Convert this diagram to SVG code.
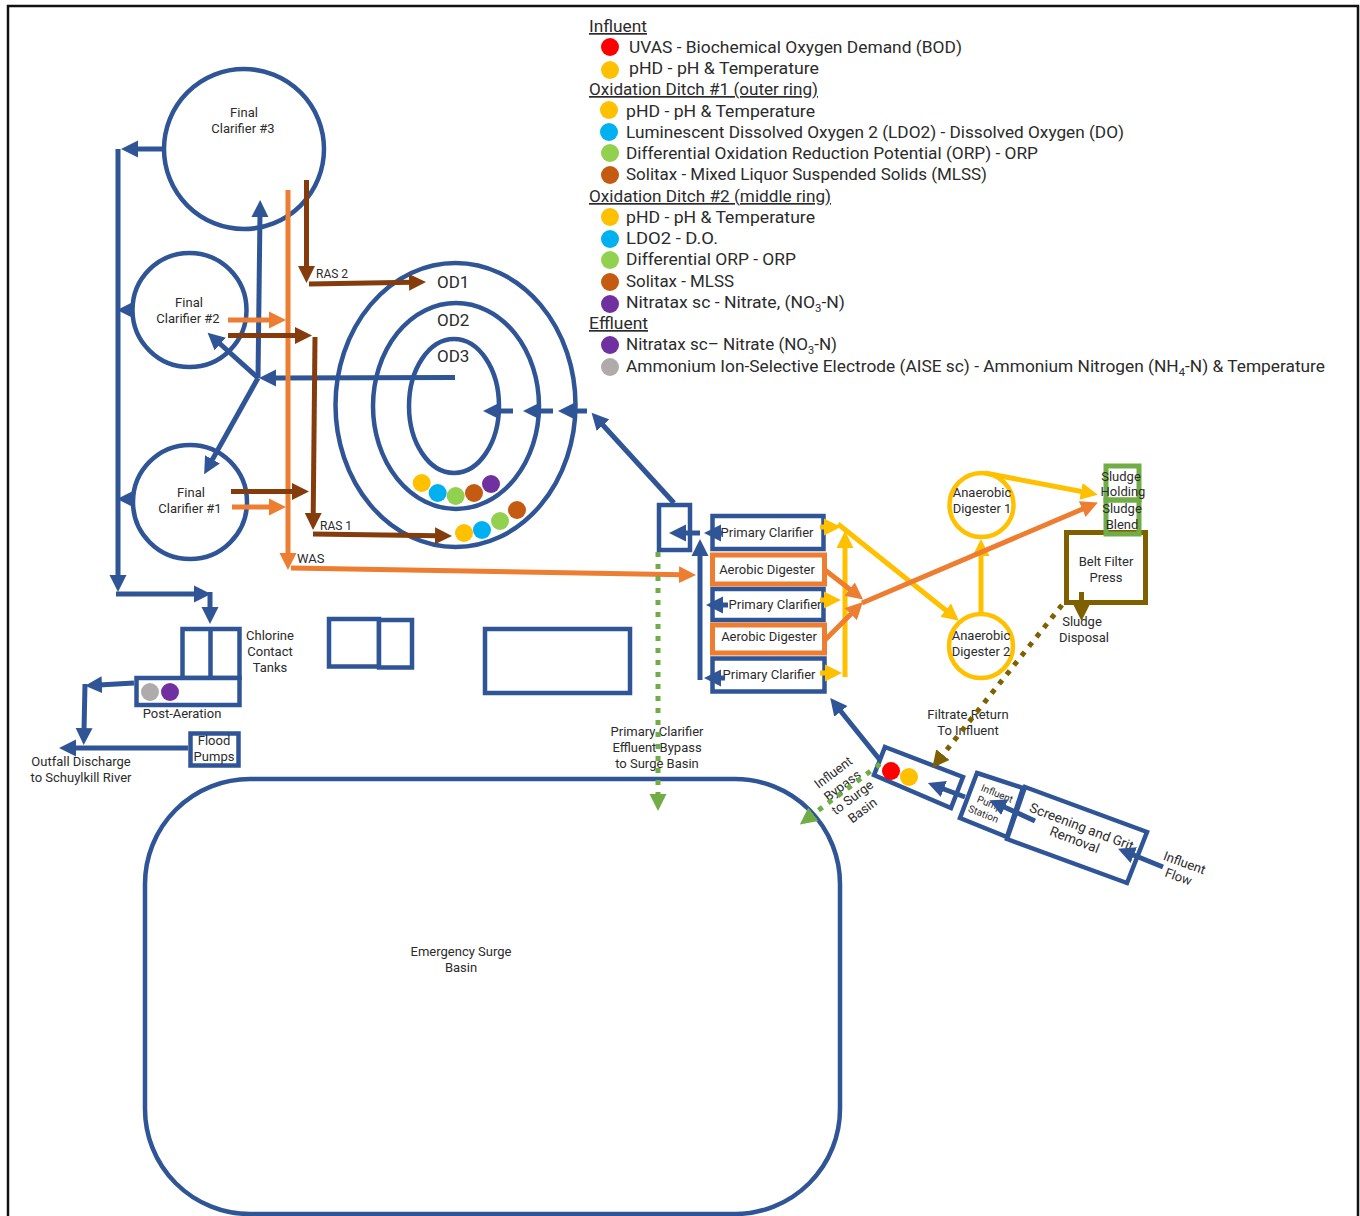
<svg xmlns="http://www.w3.org/2000/svg" width="1360" height="1216" viewBox="0 0 1360 1216">
<style>
text{font-family:"Roboto","Liberation Sans",sans-serif;font-size:13px;fill:#2b2b2b;text-anchor:middle}
.lg{font-size:17px;text-anchor:start}
.h{text-decoration:underline}
.od{font-size:17px;text-anchor:start}
.b,.o,.y,.t,.g,.w{fill:#fff}
.b{stroke:#2f5597;stroke-width:4.5}
.o{stroke:#ed7d31;stroke-width:5}
.y{stroke:#ffc000;stroke-width:4.5}
.t{stroke:#7f6000;stroke-width:5}
.g{stroke:#70ad47;stroke-width:5;fill:none}
#connectors line{fill:none;stroke-width:5}
.cb{stroke:#2f5597;marker-end:url(#mb)}
.co{stroke:#ed7d31;marker-end:url(#mo)}
.cr{stroke:#843c0c;marker-end:url(#mr)}
.cy{stroke:#ffc000;marker-end:url(#my)}
.ct{stroke:#7f6000;marker-end:url(#mt)}
.cg{stroke:#70ad47;marker-end:url(#mg)}
#connectors line.dot{stroke-width:5;stroke-dasharray:5 7}
.s1{fill:#ffc000}.s2{fill:#00b0f0}.s3{fill:#92d050}.s4{fill:#c55a11}.s5{fill:#7030a0}.s6{fill:#afabab}.s7{fill:#ff0000}
</style>
<defs>
<marker id="mb" markerUnits="userSpaceOnUse" markerWidth="18" markerHeight="18" refX="3" refY="9" orient="auto"><path d="M0,0.5L17,9L0,17.500z" fill="#2f5597"/></marker>
<marker id="mo" markerUnits="userSpaceOnUse" markerWidth="18" markerHeight="18" refX="3" refY="9" orient="auto"><path d="M0,0.5L17,9L0,17.500z" fill="#ed7d31"/></marker>
<marker id="mr" markerUnits="userSpaceOnUse" markerWidth="18" markerHeight="18" refX="3" refY="9" orient="auto"><path d="M0,0.5L17,9L0,17.500z" fill="#843c0c"/></marker>
<marker id="my" markerUnits="userSpaceOnUse" markerWidth="18" markerHeight="18" refX="3" refY="9" orient="auto"><path d="M0,0.5L17,9L0,17.500z" fill="#ffc000"/></marker>
<marker id="mt" markerUnits="userSpaceOnUse" markerWidth="18" markerHeight="18" refX="3" refY="9" orient="auto"><path d="M0,0.5L17,9L0,17.500z" fill="#7f6000"/></marker>
<marker id="mg" markerUnits="userSpaceOnUse" markerWidth="18" markerHeight="18" refX="3" refY="9" orient="auto"><path d="M0,0.5L17,9L0,17.500z" fill="#70ad47"/></marker>
</defs>
<rect width="1360" height="1216" fill="#fff"/>
<path d="M8,1216V6H1358V1216" fill="none" stroke="#111" stroke-width="2.5"/>

<g id="legend">
<text class="lg h" x="589" y="32" textLength="58" lengthAdjust="spacingAndGlyphs">Influent</text>
<circle class="s7" cx="610" cy="47" r="9"/><text class="lg" x="629" y="53" textLength="333" lengthAdjust="spacingAndGlyphs">UVAS - Biochemical Oxygen Demand (BOD)</text>
<circle class="s1" cx="610" cy="70" r="9"/><text class="lg" x="629" y="74" textLength="190" lengthAdjust="spacingAndGlyphs">pHD - pH &amp; Temperature</text>
<text class="lg h" x="589" y="95" textLength="229" lengthAdjust="spacingAndGlyphs">Oxidation Ditch #1 (outer ring)</text>
<circle class="s1" cx="609" cy="110" r="9"/><text class="lg" x="626" y="117" textLength="189" lengthAdjust="spacingAndGlyphs">pHD - pH &amp; Temperature</text>
<circle class="s2" cx="609" cy="132" r="9"/><text class="lg" x="626" y="138" textLength="498" lengthAdjust="spacingAndGlyphs">Luminescent Dissolved Oxygen 2 (LDO2) - Dissolved Oxygen (DO)</text>
<circle class="s3" cx="610" cy="153" r="9"/><text class="lg" x="626" y="159" textLength="412" lengthAdjust="spacingAndGlyphs">Differential Oxidation Reduction Potential (ORP) - ORP</text>
<circle class="s4" cx="610" cy="175" r="9"/><text class="lg" x="626" y="180" textLength="361" lengthAdjust="spacingAndGlyphs">Solitax - Mixed Liquor Suspended Solids (MLSS)</text>
<text class="lg h" x="589" y="202" textLength="242" lengthAdjust="spacingAndGlyphs">Oxidation Ditch #2 (middle ring)</text>
<circle class="s1" cx="610" cy="217" r="9"/><text class="lg" x="626" y="223" textLength="189" lengthAdjust="spacingAndGlyphs">pHD - pH &amp; Temperature</text>
<circle class="s2" cx="610" cy="239" r="9"/><text class="lg" x="626" y="244" textLength="92" lengthAdjust="spacingAndGlyphs">LDO2 - D.O.</text>
<circle class="s3" cx="610" cy="260" r="9"/><text class="lg" x="626" y="265" textLength="170" lengthAdjust="spacingAndGlyphs">Differential ORP - ORP</text>
<circle class="s4" cx="610" cy="282" r="9"/><text class="lg" x="626" y="287" textLength="108" lengthAdjust="spacingAndGlyphs">Solitax - MLSS</text>
<circle class="s5" cx="610" cy="304" r="9"/><text class="lg" x="626" y="308" textLength="219" lengthAdjust="spacingAndGlyphs">Nitratax sc - Nitrate, (NO<tspan font-size="11" dy="4">3</tspan><tspan dy="-4">-N)</tspan></text>
<text class="lg h" x="589" y="329" textLength="59" lengthAdjust="spacingAndGlyphs">Effluent</text>
<circle class="s5" cx="610" cy="345" r="9"/><text class="lg" x="626" y="350" textLength="211" lengthAdjust="spacingAndGlyphs">Nitratax sc– Nitrate (NO<tspan font-size="11" dy="4">3</tspan><tspan dy="-4">-N)</tspan></text>
<circle class="s6" cx="610" cy="367" r="9"/><text class="lg" x="626" y="372" textLength="699" lengthAdjust="spacingAndGlyphs">Ammonium Ion-Selective Electrode (AISE sc) - Ammonium Nitrogen (NH<tspan font-size="11" dy="4">4</tspan><tspan dy="-4">-N) &amp; Temperature</tspan></text>
</g>

<g id="final-clarifier-3"><circle class="b" cx="244" cy="149" r="80"/><text x="244" y="117">Final</text><text x="243" y="133">Clarifier #3</text></g>
<g id="final-clarifier-2"><circle class="b" cx="189.500" cy="310" r="57"/><text x="189" y="307">Final</text><text x="188" y="323">Clarifier #2</text></g>
<g id="final-clarifier-1"><circle class="b" cx="190" cy="502" r="57"/><text x="191" y="497">Final</text><text x="190" y="513">Clarifier #1</text></g>
<g id="oxidation-ditches">
<ellipse class="b" cx="455.500" cy="405" rx="120" ry="142"/>
<ellipse class="b" cx="456" cy="406" rx="83" ry="103"/>
<ellipse class="b" cx="454" cy="406" rx="45" ry="67"/>
<text class="od" x="437" y="288">OD1</text><text class="od" x="437" y="326">OD2</text><text class="od" x="437" y="362">OD3</text>
<circle class="s1" cx="421.700" cy="483" r="9"/><circle class="s2" cx="437.700" cy="493" r="9"/><circle class="s3" cx="455.700" cy="496" r="9"/><circle class="s4" cx="474" cy="493" r="9"/><circle class="s5" cx="491" cy="484" r="9"/>
<circle class="s1" cx="464" cy="533" r="9"/><circle class="s2" cx="482" cy="530" r="9"/><circle class="s3" cx="500" cy="521" r="9"/><circle class="s4" cx="517" cy="510" r="9"/>
</g>
<g id="splitter-box"><rect class="b" x="659" y="505" width="31" height="45"/></g>
<g id="primary-clarifier-1"><rect class="b" x="712.500" y="516" width="111" height="33"/><text x="767" y="537">Primary Clarifier</text></g>
<g id="primary-clarifier-2"><rect class="b" x="712.500" y="589" width="111" height="31"/><text x="775" y="609">Primary Clarifier</text></g>
<g id="primary-clarifier-3"><rect class="b" x="712.500" y="658.500" width="112" height="33"/><text x="769" y="679">Primary Clarifier</text></g>
<g id="aerobic-digester-1"><rect class="o" x="712.500" y="555" width="112" height="29"/><text x="767" y="574">Aerobic Digester</text></g>
<g id="aerobic-digester-2"><rect class="o" x="712.500" y="625" width="112" height="28"/><text x="769" y="641">Aerobic Digester</text></g>
<g id="anaerobic-digester-1"><circle class="y" cx="981.500" cy="505" r="32"/><text x="982" y="497">Anaerobic</text><text x="982" y="513">Digester 1</text></g>
<g id="anaerobic-digester-2"><circle class="y" cx="981" cy="646" r="32"/><text x="981" y="640">Anaerobic</text><text x="981" y="656">Digester 2</text></g>
<g id="belt-filter-press"><rect class="t" x="1066.500" y="532.500" width="79" height="70"/><text x="1106" y="566">Belt Filter</text><text x="1106" y="582">Press</text></g>
<g id="sludge-holding-blend"><rect class="g" x="1106" y="466" width="33" height="34"/><rect class="g" x="1106" y="500" width="33" height="34"/><text x="1121" y="481">Sludge</text><text x="1123" y="496">Holding</text><text x="1122" y="513">Sludge</text><text x="1122" y="529">Blend</text></g>
<g id="sludge-disposal"><text x="1082" y="626">Sludge</text><text x="1084" y="642">Disposal</text></g>
<g id="chlorine-contact-tanks"><rect class="b" x="182.500" y="629" width="57" height="49"/><line x1="210.500" y1="629" x2="210.500" y2="678" class="b"/><text x="270" y="640">Chlorine</text><text x="270" y="656">Contact</text><text x="270" y="672">Tanks</text></g>
<g id="post-aeration"><rect class="b" x="136.500" y="678" width="103" height="27"/><circle class="s6" cx="150" cy="692" r="9"/><circle class="s5" cx="170" cy="692" r="9"/><text x="182" y="718">Post-Aeration</text></g>
<g id="flood-pumps"><rect class="b" x="190.500" y="733.500" width="48" height="32"/><text x="214" y="745">Flood</text><text x="214" y="761">Pumps</text></g>
<g id="unlabeled-tanks"><rect class="b" x="329" y="619" width="50" height="47.500"/><rect class="b" x="379" y="620" width="33" height="47.500"/></g>
<g id="unlabeled-basin"><rect class="b" x="485" y="629" width="145" height="64"/></g>
<g id="surge-basin"><rect class="b" x="145" y="779" width="695" height="435" rx="105" ry="105"/><text x="461" y="956">Emergency Surge</text><text x="461" y="972">Basin</text></g>
<g id="influent-box"><path class="b" d="M885,747L963,777L951,808L874,775z"/><circle class="s7" cx="891" cy="771" r="9"/><circle class="s1" cx="909" cy="777" r="9"/></g>
<g id="influent-pump-station"><path class="b" d="M977,773L1023,788L1007,837L960,818z"/><g transform="translate(990,803) rotate(22)"><text style="font-size:10px" x="3" y="-8">Influent</text><text style="font-size:10px" x="0" y="4">Pump</text><text style="font-size:10px" x="-2" y="16">Station</text></g></g>
<g id="screening-grit"><path class="b" d="M1025,787L1147,832L1127,883L1007,839z"/><text style="font-size:13.500px" transform="translate(1080,831) rotate(21)">Screening and Grit</text><text style="font-size:13.500px" transform="translate(1073,844) rotate(21)">Removal</text></g>
<g id="labels">
<text x="316" y="278" style="text-anchor:start;font-size:12px">RAS 2</text>
<text x="320" y="530" style="text-anchor:start;font-size:12px">RAS 1</text>
<text x="297" y="563" style="text-anchor:start">WAS</text>
<text x="657" y="736">Primary Clarifier</text><text x="657" y="752">Effluent Bypass</text><text x="657" y="768">to Surge Basin</text>
<text x="968" y="719">Filtrate Return</text><text x="968" y="735">To Influent</text>
<text x="81" y="766">Outfall Discharge</text><text x="81" y="782">to Schuylkill River</text>
<text transform="translate(1183,867) rotate(20)">Influent</text><text transform="translate(1177,881) rotate(20)">Flow</text>
<text transform="translate(836,776) rotate(-37)">Influent</text><text transform="translate(845,789) rotate(-37)">Bypass</text><text transform="translate(855,801) rotate(-37)">to Surge</text><text transform="translate(865,814) rotate(-37)">Basin</text>
</g>

<g id="connectors">
<line class="cb" x1="163" y1="149" x2="135" y2="149"/>
<line x1="118" y1="149" x2="118" y2="578" class="cb"/>
<line class="cb" x1="132" y1="310" x2="131" y2="310"/>
<line class="cb" x1="132" y1="499" x2="131" y2="499"/>
<line class="cb" x1="116" y1="594" x2="197" y2="594"/>
<line class="cb" x1="210" y1="592" x2="210" y2="610"/>
<line class="cb" x1="455" y1="377.500" x2="273" y2="378"/>
<line class="cb" x1="258" y1="378" x2="260" y2="214"/>
<line class="cb" x1="258" y1="378" x2="218" y2="342"/>
<line class="cb" x1="258" y1="378" x2="211" y2="462"/>
<line class="cb" x1="513" y1="411" x2="497" y2="411"/>
<line class="cb" x1="553" y1="411" x2="537" y2="411"/>
<line class="cb" x1="587" y1="411" x2="572" y2="411"/>
<line class="cb" x1="674" y1="503" x2="601" y2="423"/>
<line class="cb" x1="700" y1="533" x2="683" y2="533"/>
<line class="cb" x1="722" y1="533" x2="718" y2="533"/>
<line class="cb" x1="700" y1="680" x2="700" y2="553"/>
<line class="cb" x1="728" y1="605" x2="720" y2="605"/>
<line class="cb" x1="725" y1="678" x2="718" y2="678"/>
<line class="cb" x1="880" y1="760" x2="839" y2="709"/>
<line class="cb" x1="1163" y1="867" x2="1131" y2="854"/>
<line class="cb" x1="1035" y1="821" x2="1002" y2="806"/>
<line class="cb" x1="965" y1="797" x2="941" y2="788"/>
<line class="cb" x1="134" y1="683" x2="99" y2="685"/>
<line class="cb" x1="85" y1="684" x2="84" y2="731"/>
<line class="cb" x1="188" y1="748" x2="73" y2="748"/>
<line class="cy" x1="820" y1="527" x2="827" y2="527"/>
<line class="cy" x1="820" y1="600" x2="827" y2="600"/>
<line class="cy" x1="820" y1="673" x2="828" y2="673"/>
<line class="cy" x1="845" y1="677" x2="845" y2="545"/>
<line class="cy" x1="838" y1="524" x2="948" y2="612"/>
<line class="cy" x1="981" y1="613" x2="981" y2="553"/>
<line class="cy" x1="985" y1="473" x2="1084" y2="492"/>
<line class="co" x1="825" y1="570" x2="852" y2="591"/>
<line class="co" x1="825" y1="640" x2="853" y2="612"/>
<line class="co" x1="862" y1="603" x2="1085" y2="508"/>
<line class="co" x1="288" y1="190" x2="288" y2="556"/>
<line class="co" x1="291" y1="568" x2="682" y2="574.700"/>
<line class="co" x1="228" y1="320" x2="272" y2="320"/>
<line class="co" x1="232" y1="507" x2="272" y2="507"/>
<line class="cr" x1="306.500" y1="180" x2="306.500" y2="269"/>
<line class="cr" x1="309" y1="284" x2="412" y2="282.300"/>
<line class="cr" x1="228" y1="335.500" x2="298" y2="335.500"/>
<line class="cr" x1="315" y1="337" x2="313.200" y2="516"/>
<line class="cr" x1="313" y1="534" x2="438" y2="535.800"/>
<line class="cr" x1="231" y1="491.500" x2="295" y2="491.500"/>
<line class="ct" x1="1081.500" y1="592" x2="1081.500" y2="607"/>
<line class="ct dot" x1="1062" y1="605" x2="941" y2="757"/>
<line class="cg dot" x1="658" y1="552" x2="658" y2="797"/>
<line class="cg dot" x1="880" y1="764" x2="811" y2="816"/>
</g>
</svg>
